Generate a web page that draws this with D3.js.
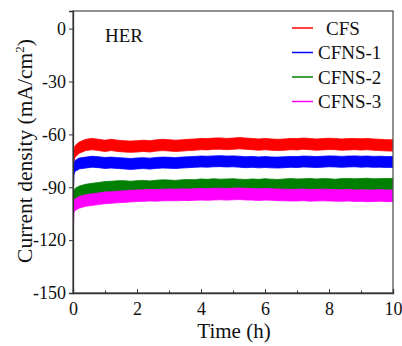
<!DOCTYPE html>
<html>
<head>
<meta charset="utf-8">
<script src="https://cdn.jsdelivr.net/npm/d3@7"></script>
<style>
  body { margin: 0; background: #fff; }
</style>
</head>
<body>
<div class="main"></div>
<script>
//Canvas config
var margin = {top: 11, right: 9, bottom: 53, left: 73};
var width = 402 - margin.left - margin.right;
var height = 346 - margin.top - margin.bottom;
var serif = "'Liberation Serif'";

// data (time in h, current density in mA/cm2)
var seriesNames = ["CFS", "CFNS-1", "CFNS-2", "CFNS-3"];
var seriesColors = ["#ff0000", "#0000ff", "#008000", "#ff00ff"];
var xTicks = [0, 2, 4, 6, 8, 10];
var yTicks = [0, -30, -60, -90, -120, -150];
var bandHalf = [3.2, 3.1, 3.2, 3.3];

var time = [0, 0.01, 0.03, 0.06, 0.1, 0.2, 0.4, 0.6, 0.8, 1.0, 1.2, 1.4, 1.6, 1.8, 2.0,
  2.2, 2.4, 2.6, 2.8, 3.0, 3.2, 3.4, 3.6, 3.8, 4.0, 4.2, 4.4, 4.6, 4.8, 5.0,
  5.2, 5.4, 5.6, 5.8, 6.0, 6.2, 6.4, 6.6, 6.8, 7.0, 7.2, 7.4, 7.6, 7.8, 8.0,
  8.2, 8.4, 8.6, 8.8, 9.0, 9.2, 9.4, 9.6, 9.8, 10.0];

var cfs = [-150, -80, -72, -70, -69, -67.5, -66, -65.5, -66, -66.5, -66, -66.5, -66.8, -67, -66.8,
  -66.5, -66.8, -66.3, -66, -66.2, -66.5, -66.3, -66, -65.8, -65.5, -65.6, -65.3, -65.2, -65.5, -65.3,
  -65, -65.3, -65.5, -65.8, -65.5, -65.8, -66, -65.8, -65.5, -65.6, -65.3, -65.5, -65.8, -65.6, -65.4,
  -65.5, -65.8, -65.6, -65.5, -65.7, -65.5, -65.8, -66, -66.2, -66.3];
var cfns1 = [-150, -90, -80, -78, -77.5, -76.5, -76, -75.5, -75.8, -76.2, -76, -76.3, -76.5, -76.8, -76.5,
  -76.3, -76.6, -76.2, -76, -76.1, -76.3, -76, -75.8, -75.6, -75.4, -75.5, -75.3, -75.2, -75.4, -75.3,
  -75.5, -75.8, -75.6, -75.9, -75.7, -75.9, -76, -75.8, -75.6, -75.7, -75.4, -75.5, -75.7, -75.5, -75.3,
  -75.4, -75.6, -75.4, -75.3, -75.5, -75.4, -75.6, -75.5, -75.7, -75.6];
var cfns2 = [-150, -100, -95, -94, -93.5, -92.5, -91.5, -91, -90.5, -90, -89.8, -89.5, -89.5, -89.8, -89.5,
  -89.3, -89.6, -89.2, -89, -89.1, -89.3, -89, -88.8, -88.9, -88.5, -88.7, -88.4, -88.6, -88.5, -88.4,
  -88.6, -88.8, -88.5, -88.7, -88.4, -88.6, -88.8, -88.5, -88.3, -88.5, -88.4, -88.2, -88.5, -88.3, -88.4,
  -88.6, -88.3, -88.2, -88.4, -88.3, -88.1, -88.4, -88.3, -88.2, -88.3];
var cfns3 = [-150, -110, -101, -100, -99.5, -98.5, -97.5, -97, -96.5, -96, -95.8, -95.5, -95.3, -95, -94.8,
  -94.7, -94.5, -94.6, -94.4, -94.3, -94.4, -94.2, -94.3, -94.1, -94, -94.1, -93.9, -93.8, -94, -93.8,
  -93.7, -93.9, -94, -94.2, -94, -94.1, -94.3, -94.4, -94.5, -94.5, -94.3, -94.6, -94.5, -94.4, -94.5,
  -94.6, -94.7, -94.5, -94.8, -94.7, -94.9, -94.8, -94.6, -94.9, -94.8];
var seriesValues = [cfs, cfns1, cfns2, cfns3];

var svg = d3.select(".main")
  .append("svg")
  .attr("width", 402)
  .attr("height", 346);

var g = svg.append("g")
  .attr("transform", "translate(" + margin.left + "," + margin.top + ")");

var xScale = d3.scaleLinear().domain([0, 10]).range([0, width]);
var yScale = d3.scaleLinear().domain([-150, 10]).range([height, 0]);

g.append("clipPath").attr("id", "plotClip")
  .append("rect").attr("width", width).attr("height", height);

//bands
var area = d3.area()
  .x(function(d) { return xScale(d.t); })
  .y0(function(d) { return yScale(d.v - d.h); })
  .y1(function(d) { return yScale(d.v + d.h); });

var plot = g.append("g").attr("clip-path", "url(#plotClip)");
seriesValues.forEach(function(vals, i) {
  var pts = time.map(function(t, k) { return {t: t, v: vals[k], h: bandHalf[i]}; });
  plot.append("path")
    .datum(pts)
    .attr("d", area)
    .style("fill", seriesColors[i])
    .style("stroke", seriesColors[i])
    .style("stroke-width", 0.8);
});

//frame
g.append("rect")
  .attr("width", width).attr("height", height)
  .style("fill", "none").style("stroke", "#555").style("stroke-width", 1.3);

//x axis
var xAxis = d3.axisBottom(xScale).tickValues(xTicks).tickSize(-4).tickPadding(9);
g.append("g").attr("class", "x-axis")
  .attr("transform", "translate(0," + height + ")")
  .call(xAxis);
var xMinor = d3.axisBottom(xScale).tickValues([1, 3, 5, 7, 9]).tickSize(-2.5).tickFormat("");
g.append("g").attr("transform", "translate(0," + height + ")").call(xMinor)
  .select(".domain").remove();

//y axis
var yAxis = d3.axisLeft(yScale).tickValues(yTicks).tickSize(4).tickPadding(3)
  .tickFormat(function(d) { return String(d); });
g.append("g").attr("class", "y-axis").call(yAxis);

g.selectAll(".tick line").style("stroke", "#333").style("stroke-width", 1);
g.selectAll(".domain").style("stroke", "#333").style("stroke-width", 1.3);
g.selectAll(".tick text")
  .style("font-family", serif)
  .style("font-size", "18px")
  .style("fill", "#111");

//labels
g.append("text")
  .text("HER")
  .attr("x", 32).attr("y", 31)
  .style("font-family", serif)
  .style("font-size", "19px")
  .style("fill", "#111");

g.append("text")
  .attr("text-anchor", "middle")
  .attr("x", width / 2 + 1).attr("y", height + 45)
  .style("font-family", serif)
  .style("font-size", "21px")
  .style("fill", "#111")
  .text("Time (h)");

var yLab = svg.append("text")
  .attr("text-anchor", "middle")
  .attr("transform", "translate(32," + 151 + ") rotate(-90)")
  .style("font-family", serif)
  .style("font-size", "21.5px")
  .style("fill", "#111");
yLab.append("tspan").text("Current density (mA/cm");
yLab.append("tspan").attr("dy", -8).style("font-size", "13px").text("2");
yLab.append("tspan").attr("dy", 8).text(")");

//legend
var legend = g.append("g").attr("class", "legend");
seriesNames.forEach(function(name, i) {
  var ly = 17 + i * 24.5;
  legend.append("line")
    .attr("x1", 219).attr("x2", 240)
    .attr("y1", ly).attr("y2", ly)
    .style("stroke", seriesColors[i])
    .style("stroke-width", 1.5);
  legend.append("text")
    .attr("x", i == 0 ? 253 : 245)
    .attr("y", ly + 6.5)
    .style("font-family", serif)
    .style("font-size", "19px")
    .style("fill", "#111")
    .text(name);
});
</script>
</body>
</html>
